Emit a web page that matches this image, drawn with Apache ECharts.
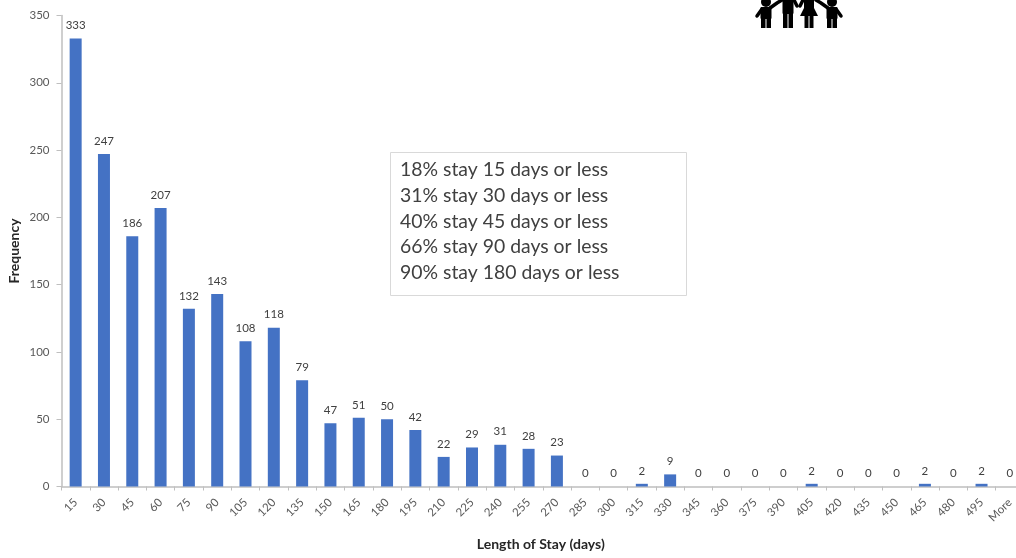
<!DOCTYPE html>
<html>
<head>
<meta charset="utf-8">
<style>
html, body { margin: 0; padding: 0; background: #fff; overflow: hidden; }
#main { width: 1016px; height: 558px; filter: blur(0.45px); }
</style>
<script src="https://cdn.jsdelivr.net/npm/echarts@6/dist/echarts.min.js"></script>
</head>
<body>
<div id="main"></div>
<script>
var days = ['15','30','45','60','75','90','105','120','135','150','165','180','195','210','225','240','255','270','285','300','315','330','345','360','375','390','405','420','435','450','465','480','495','More'];
var frequency = [333,247,186,207,132,143,108,118,79,47,51,50,42,22,29,31,28,23,0,0,2,9,0,0,0,0,2,0,0,0,2,0,2,0];
var yTicks = { min: 0, max: 350, interval: 50 };
var noteLines = ['18% stay 15 days or less','31% stay 30 days or less','40% stay 45 days or less','66% stay 90 days or less','90% stay 180 days or less'];

var myChart = echarts.init(document.getElementById('main'), null, { renderer: 'canvas' });
var grayText = '#595959';
var axisGray = '#bfbfbf';

// little family icon, cut off by the top of the page
var ink = { fill: '#000' };
function figure(cx, headY, headR, bodyW, bodyBottom, legBottom, skirt) {
    var top = headY + headR;
    var parts = [
        { type: 'circle', shape: { cx: cx, cy: headY, r: headR }, style: ink },
        { type: 'rect', shape: { x: cx - bodyW / 2, y: top, width: bodyW, height: bodyBottom - top, r: 1 }, style: ink },
        { type: 'rect', shape: { x: cx - bodyW / 2 + 0.5, y: bodyBottom - 1, width: bodyW / 2 - 1, height: legBottom - bodyBottom + 1 }, style: ink },
        { type: 'rect', shape: { x: cx + 0.5, y: bodyBottom - 1, width: bodyW / 2 - 1, height: legBottom - bodyBottom + 1 }, style: ink }
    ];
    if (skirt) {
        parts.push({ type: 'polygon', shape: { points: [[cx - 3, 4], [cx + 3, 4], [cx + 9, bodyBottom], [cx - 9, bodyBottom]] }, style: ink });
    }
    return parts;
}
function arm(points) {
    return { type: 'polyline', shape: { points: points }, style: { stroke: '#000', lineWidth: 3.5, fill: null, lineCap: 'round' } };
}
var icon = [].concat(
    figure(766, 2, 5, 11, 19, 28),
    figure(788, -6, 5, 11, 14, 28),
    figure(809, -6, 4, 10, 16, 28, true),
    figure(832, 2, 5, 11, 19, 28),
    [
        arm([[770, 8], [777, 3], [782, 0]]),
        arm([[762, 9], [757, 16]]),
        arm([[828, 8], [821, 3], [816, 0]]),
        arm([[836, 9], [841, 16]]),
        arm([[794, 0], [797, 6]]),
        arm([[803, 0], [800, 6]])
    ]
);

var option = {
    animation: false,
    backgroundColor: '#fff',
    textStyle: { fontFamily: 'Lato' },
    grid: { left: 61.5, right: -8, top: 15.5, bottom: 71.5, outerBoundsMode: 'none' },
    xAxis: {
        type: 'category',
        data: days,
        name: 'Length of Stay (days)',
        nameLocation: 'middle',
        nameGap: 51,
        nameTextStyle: { fontFamily: 'Lato', fontSize: 14, fontWeight: 'bold', color: '#262626', padding: [0, 4, 0, 0] },
        axisLine: { lineStyle: { color: axisGray, width: 1.5 } },
        axisTick: { show: true, length: 4, lineStyle: { color: axisGray } },
        axisLabel: { interval: 0, rotate: 45, fontSize: 11.5, color: grayText, margin: 14 }
    },
    yAxis: {
        type: 'value',
        min: yTicks.min,
        max: yTicks.max,
        interval: yTicks.interval,
        name: 'Frequency',
        nameLocation: 'middle',
        nameGap: 40,
        nameMoveOverlap: false,
        nameTextStyle: { fontFamily: 'Lato', fontSize: 14, fontWeight: 'bold', color: '#262626' },
        axisLine: { show: true, lineStyle: { color: axisGray, width: 1.5 } },
        axisTick: { show: true, length: 5, lineStyle: { color: axisGray } },
        axisLabel: { fontSize: 11.5, color: grayText, margin: 12 },
        splitLine: { show: false }
    },
    series: [{
        type: 'bar',
        data: frequency,
        barWidth: 12,
        itemStyle: { color: '#4472c4' },
        label: { show: true, position: 'top', distance: 7, fontSize: 11.5, color: '#404040' }
    }],
    graphic: icon.concat([
        { type: 'rect', shape: { x: 390.5, y: 152.5, width: 296, height: 143 }, style: { fill: '#fff', stroke: '#d9d9d9', lineWidth: 1 } },
        { type: 'text', x: 400, y: 157, style: { text: noteLines.join('\n'), font: '19.4px Lato', lineHeight: 25.7, fill: '#404040' } }
    ])
};
myChart.setOption(option);
</script>
</body>
</html>
